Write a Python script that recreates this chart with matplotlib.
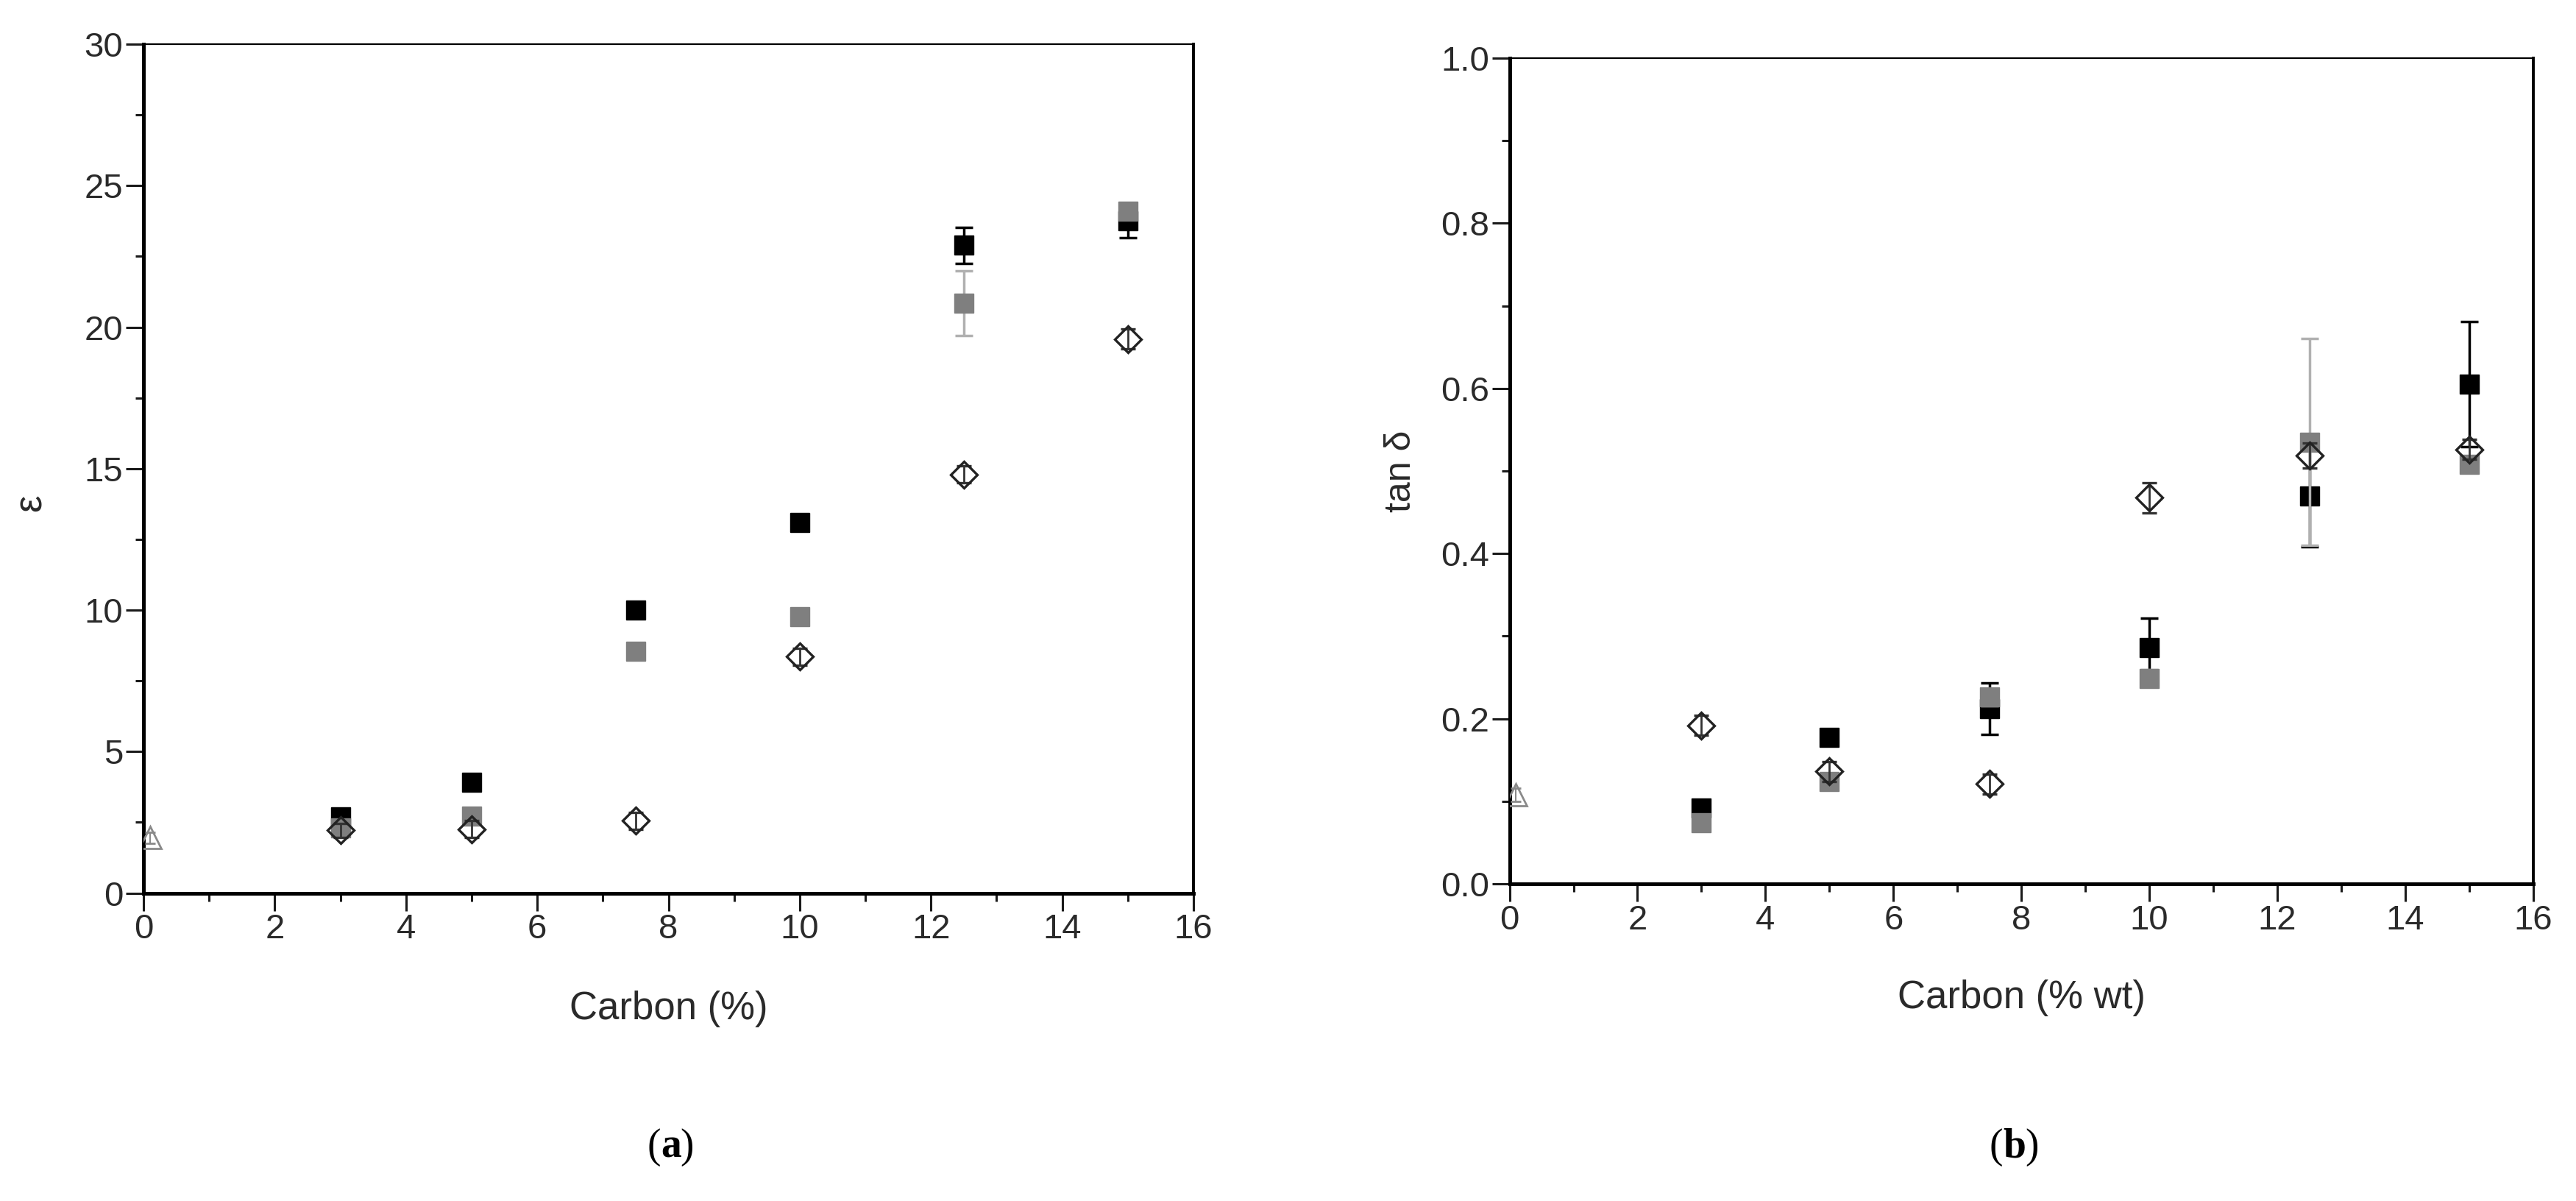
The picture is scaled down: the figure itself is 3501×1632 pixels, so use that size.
import matplotlib
matplotlib.use('Agg')
import matplotlib.pyplot as plt
from matplotlib.ticker import MultipleLocator, FormatStrFormatter

plt.rcParams['font.family'] = ['Liberation Sans', 'DejaVu Sans']

# carbon content (%)
carbon = [3, 5, 7.5, 10, 12.5, 15]
carbon_ref = [0.1]

# (a) permittivity
eps_black = [2.69, 3.92, 9.99, 13.1, 22.89, 23.75]
eps_black_err = [0.1, 0.1, 0.1, 0.15, 0.64, 0.6]
eps_gray = [2.3, 2.72, 8.54, 9.76, 20.84, 24.1]
eps_gray_err = [0.1, 0.1, 0.1, 0.1, 1.15, 0.2]
eps_diam = [2.22, 2.26, 2.56, 8.35, 14.79, 19.58]
eps_diam_err = [0.25, 0.3, 0.3, 0.3, 0.3, 0.35]
eps_ref = [1.96]
eps_ref_err = [0.2]

# (b) loss tangent
tan_black = [0.092, 0.177, 0.212, 0.286, 0.470, 0.605]
tan_black_err = [0.005, 0.005, 0.031, 0.036, 0.062, 0.076]
tan_gray = [0.074, 0.124, 0.226, 0.249, 0.535, 0.508]
tan_gray_err = [0.005, 0.005, 0.01, 0.01, 0.125, 0.01]
tan_diam = [0.192, 0.136, 0.121, 0.4675, 0.519, 0.526]
tan_diam_err = [0.012, 0.012, 0.012, 0.018, 0.015, 0.012]
tan_ref = [0.108]
tan_ref_err = [0.008]

fig = plt.figure(figsize=(35.01, 16.32), dpi=100)
ax1 = fig.add_axes([0.0557, 0.2564, 0.4076, 0.7068])
ax2 = fig.add_axes([0.5860, 0.2641, 0.3974, 0.6875])


def draw(ax, yb, ybe, yg, yge, yd, yde, yr, yre):
    ax.errorbar(carbon_ref, yr, yerr=yre, fmt='^', ms=21, mfc='none', mec='#8a8a8a',
                mew=2, ecolor='#8a8a8a', elinewidth=1.5, capsize=5, zorder=3)
    ax.errorbar(carbon, yb, yerr=ybe, fmt='s', ms=19, mfc='black', mec='black',
                ecolor='black', elinewidth=2.5, capsize=8.5, capthick=2.5, zorder=4)
    ax.errorbar(carbon, yg, yerr=yge, fmt='s', ms=19, mfc='#7f7f7f', mec='#7f7f7f',
                ecolor='#b0b0b0', elinewidth=2.5, capsize=8.5, capthick=2.5, zorder=5)
    ax.errorbar(carbon, yd, yerr=yde, fmt='D', ms=18.5, mfc='none', mec='#222222',
                mew=2.4, ecolor='#333333', elinewidth=2, capsize=7.5, capthick=2, zorder=6)


draw(ax1, eps_black, eps_black_err, eps_gray, eps_gray_err,
     eps_diam, eps_diam_err, eps_ref, eps_ref_err)
draw(ax2, tan_black, tan_black_err, tan_gray, tan_gray_err,
     tan_diam, tan_diam_err, tan_ref, tan_ref_err)

ax1.set_xlim(0, 16)
ax1.set_ylim(0, 30)
ax1.yaxis.set_major_locator(MultipleLocator(5))
ax1.yaxis.set_minor_locator(MultipleLocator(2.5))

ax2.set_xlim(0, 16)
ax2.set_ylim(0, 1.0)
ax2.yaxis.set_major_locator(MultipleLocator(0.2))
ax2.yaxis.set_minor_locator(MultipleLocator(0.1))
ax2.yaxis.set_major_formatter(FormatStrFormatter('%.1f'))

for ax in (ax1, ax2):
    ax.xaxis.set_major_locator(MultipleLocator(2))
    ax.xaxis.set_minor_locator(MultipleLocator(1))
    ax.tick_params(which='major', direction='out', length=17, width=2.2,
                   labelsize=34, pad=3, colors='#1a1a1a', labelcolor='#2a2a2a')
    ax.tick_params(which='minor', direction='out', length=8, width=2.2, colors='#1a1a1a')
    ax.spines['left'].set_linewidth(3.6)
    ax.spines['bottom'].set_linewidth(3.6)
    ax.spines['right'].set_linewidth(2.8)
    ax.spines['top'].set_linewidth(1.6)

ax1.set_xlabel('Carbon (%)', fontsize=38, labelpad=44, color='#2a2a2a')
ax1.set_ylabel('ε', fontsize=38, color='#2a2a2a')
ax1.yaxis.set_label_coords(-0.09, 0.46)
ax2.set_xlabel('Carbon (% wt)', fontsize=38, labelpad=42, color='#2a2a2a')
ax2.set_ylabel('tan δ', fontsize=36, labelpad=22, color='#2a2a2a')

fig.text(0.2565, 0.045, '(', fontsize=40, family='Liberation Serif', ha='right', va='center')
fig.text(0.2565, 0.045, 'a', fontsize=40, family='Liberation Serif', weight='bold',
         ha='left', va='center')
fig.text(0.2641, 0.045, ')', fontsize=40, family='Liberation Serif', ha='left', va='center')
fig.text(0.7775, 0.045, '(', fontsize=40, family='Liberation Serif', ha='right', va='center')
fig.text(0.7775, 0.045, 'b', fontsize=40, family='Liberation Serif', weight='bold',
         ha='left', va='center')
fig.text(0.7860, 0.045, ')', fontsize=40, family='Liberation Serif', ha='left', va='center')

fig.savefig('out.png', dpi=100)
